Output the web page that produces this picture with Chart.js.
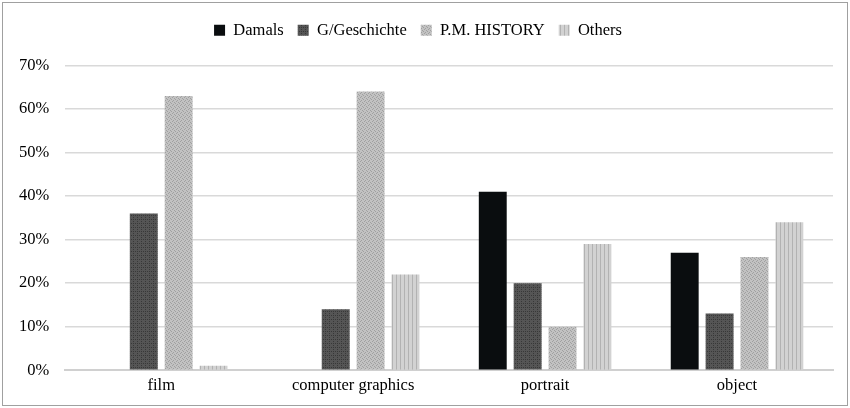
<!DOCTYPE html>
<html>
<head>
<meta charset="utf-8">
<script src="https://cdn.jsdelivr.net/npm/chart.js@4/dist/chart.umd.min.js"></script>
<style>
  html, body { margin: 0; padding: 0; background: #fff; }
  #wrap { position: absolute; left: 2px; top: 2px; width: 844px; height: 402px; border: 1px solid #a0a0a0; }
</style>
</head>
<body>
<div id="wrap"><canvas id="barChart"></canvas></div>
<script>
const categories = ['film', 'computer graphics', 'portrait', 'object'];
const damals = [0, 0, 41, 27];
const geschichte = [36, 14, 20, 13];
const pmHistory = [63, 64, 10, 26];
const others = [1, 22, 29, 34];
const yTicks = [0, 10, 20, 30, 40, 50, 60, 70];

// little textures like the print-style fills
function pattern(bg, fg, kind) {
    const c = document.createElement('canvas');
    c.width = 4; c.height = 4;
    const x = c.getContext('2d');
    x.fillStyle = bg;
    x.fillRect(0, 0, 4, 4);
    x.fillStyle = fg;
    if (kind === 'dots') {
        x.fillRect(0, 0, 1, 1); x.fillRect(2, 2, 1, 1);
        x.fillRect(2, 0, 1, 1);
    } else if (kind === 'diag') {
        x.fillRect(0, 0, 1, 1); x.fillRect(2, 1, 1, 1);
        x.fillRect(1, 2, 1, 1); x.fillRect(3, 3, 1, 1);
    } else {
        x.fillRect(1, 0, 1, 4);
    }
    return x.createPattern(c, 'repeat');
}

// push the plot down a bit under the legend
const legendGap = {
    id: 'legendGap',
    beforeInit(chart) {
        const fit = chart.legend.fit;
        chart.legend.fit = function () {
            fit.bind(chart.legend)();
            this.height += 17;
        };
    }
};

document.addEventListener("DOMContentLoaded", () => {
    const fills = [
        '#0a0d0f',
        pattern('#555555', '#383838', 'dots'),
        pattern('#c2c2c2', '#a0a0a0', 'diag'),
        pattern('#d2d2d2', '#b2b2b2', 'stripes')
    ];
    const font = { family: '"Liberation Serif", "Times New Roman", serif', size: 16.5 };

    new Chart(document.querySelector('#barChart'), {
        type: 'bar',
        data: {
            labels: categories,
            datasets: [
                { label: 'Damals', data: damals, backgroundColor: fills[0] },
                { label: 'G/Geschichte', data: geschichte, backgroundColor: fills[1] },
                { label: 'P.M. HISTORY', data: pmHistory, backgroundColor: fills[2] },
                { label: 'Others', data: others, backgroundColor: fills[3] }
            ]
        },
        options: {
            responsive: true,
            maintainAspectRatio: false,
            animation: false,
            datasets: { bar: { categoryPercentage: 0.727, barPercentage: 0.8 } },
            layout: { padding: { left: 0, right: 14, top: 5, bottom: 3 } },
            plugins: {
                legend: {
                    position: 'top',
                    labels: {
                        color: '#000', font: font,
                        boxWidth: 11, boxHeight: 11, padding: 14
                    }
                },
                tooltip: { enabled: false }
            },
            scales: {
                x: {
                    grid: { display: false, drawTicks: false },
                    border: { color: '#d0d0d0', width: 2 },
                    ticks: { color: '#000', font: font, padding: 6 }
                },
                y: {
                    min: 0, max: 70,
                    afterBuildTicks: (axis) => { axis.ticks = yTicks.map(v => ({ value: v })); },
                    grid: { color: '#d9d9d9', lineWidth: 1.5, drawTicks: false },
                    border: { display: false },
                    ticks: {
                        color: '#000', font: font, padding: 16,
                        callback: (v) => v + '%'
                    }
                }
            }
        },
        plugins: [legendGap]
    });
});
</script>
</body>
</html>
